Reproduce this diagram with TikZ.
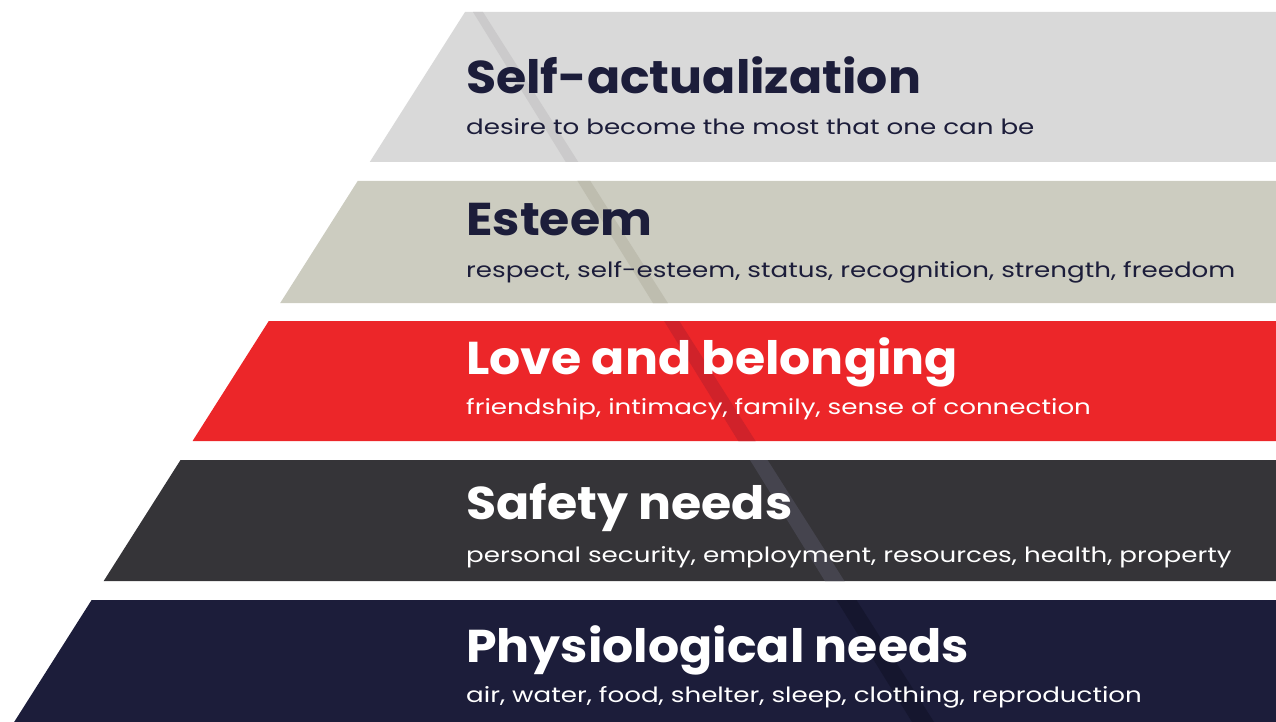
\documentclass[tikz,border=0pt]{standalone}
\usepackage{fontspec}
\setmainfont{Poppins}

% level fills, the diagonal streak on each level, and the two text inks
\definecolor{navy}{HTML}{1C1D3A}
\definecolor{lvlA}{HTML}{D9D9D9}
\definecolor{lvlAs}{HTML}{CBCACB}
\definecolor{lvlB}{HTML}{CCCCC0}
\definecolor{lvlBs}{HTML}{BEBDAF}
\definecolor{lvlC}{HTML}{EC2629}
\definecolor{lvlCs}{HTML}{D0222A}
\definecolor{lvlD}{HTML}{353438}
\definecolor{lvlDs}{HTML}{45444E}
\definecolor{lvlE}{HTML}{1C1D3A}
\definecolor{lvlEs}{HTML}{15162E}

\begin{document}
\begin{tikzpicture}[x=1pt, y=-1pt,
    lvltitle/.style={anchor=base west, inner sep=0pt,
        font=\bfseries\fontsize{46}{50}\selectfont\addfontfeature{FakeStretch=1.065}},
    lvlsub/.style={anchor=base west, inner sep=0pt,
        font=\fontsize{21}{24}\selectfont\addfontfeature{FakeStretch=1.245}}]
    \useasboundingbox (0,0) rectangle (1276,722);
    % one slanted band per level, top to bottom
    \foreach \ya/\yb/\tb/\sb/\band/\shade/\ink/\id/\lbl/\desc in {
        12/162/94/135/lvlA/lvlAs/navy/self/{Self-actualization}/{desire to become the most that one can be},
        181/303/235/277/lvlB/lvlBs/navy/esteem/{Esteem}/{respect, self-esteem, status, recognition, strength, freedom},
        321/441/374/414/lvlC/lvlCs/white/love/{Love and belonging}/{friendship, intimacy, family, sense of connection},
        460/581/519/562/lvlD/lvlDs/white/safety/{Safety needs}/{personal security, employment, resources, health, property},
        600/722/662/702/lvlE/lvlEs/white/phys/{Physiological needs}/{air, water, food, shelter, sleep, clothing, reproduction}} {
        \pgfmathsetmacro\xa{465-0.635*(\ya-12)}
        \pgfmathsetmacro\xb{465-0.635*(\yb-12)}
        \fill[\band] (\xa,\ya) -- (1276,\ya) -- (1276,\yb) -- (\xb,\yb) -- cycle;
        \begin{scope}
            \clip (\xa,\ya) -- (1276,\ya) -- (1276,\yb) -- (\xb,\yb) -- cycle;
            \fill[\shade] (473,12) -- (483,12) -- (934,722) -- (912,722) -- cycle;
        \end{scope}
        \node[lvltitle, text=\ink] (title-\id) at (466,\tb) {\lbl};
        \node[lvlsub, text=\ink] (sub-\id) at (466,\sb) {\desc};
    }
\end{tikzpicture}
\end{document}
